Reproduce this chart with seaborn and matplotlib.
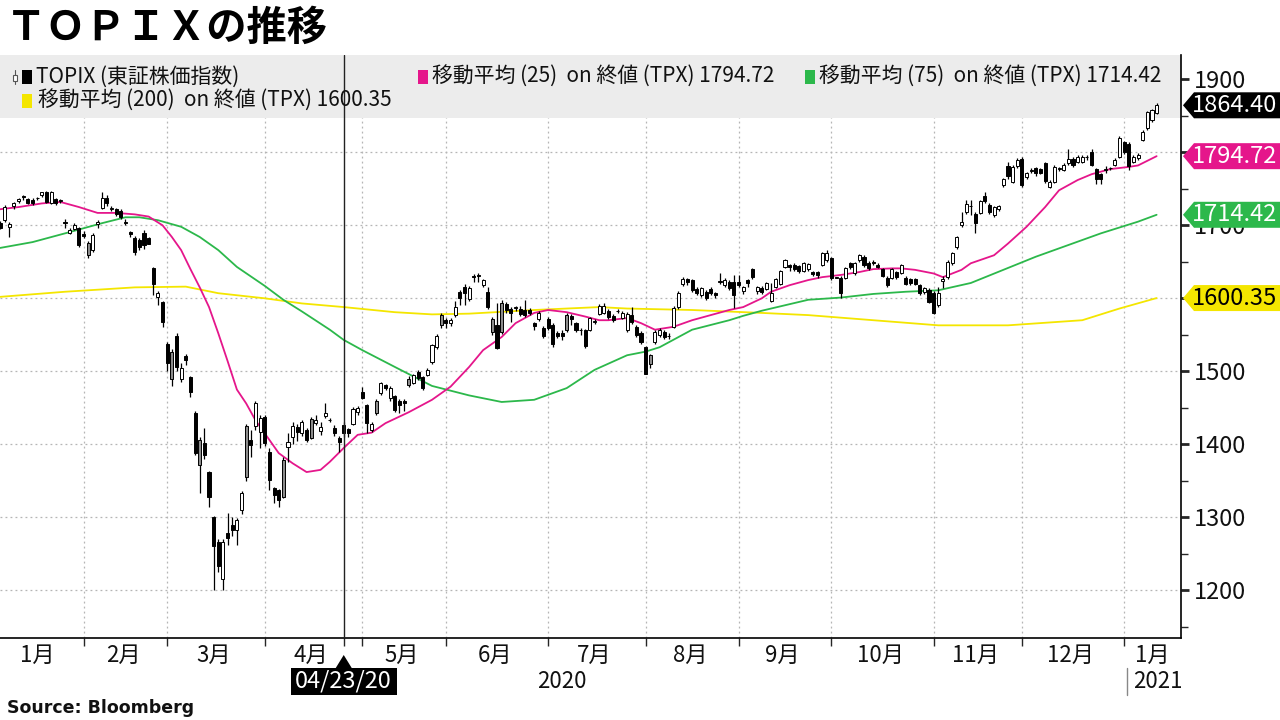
import matplotlib
matplotlib.use("Agg")
import matplotlib.pyplot as plt
import numpy as np
import pandas as pd
import seaborn as sns
from matplotlib.patches import Rectangle, Polygon
from matplotlib.lines import Line2D

# ---------------- data ----------------
opens = [
    1703,1707,1698,1726,1733,1740,1736,1735,1737,1741,1745,1731,1736,1733,1704,1690,1695,1696,1688,
    1659,1666,1702,1724,1737,1723,1722,1720,1705,1691,1683,1680,1690,1683,1641,1602,1595,1538,
    1490,1548,1490,1521,1492,1443,1372,1402,1362,1300,1266,1216,1279,1290,1282,1310,1355,1406,1425,1417,1437,
    1390,1340,1337,1328,1397,1410,1424,1416,1420,1409,1429,1418,1439,1434,1423,1409,1427,1421,1428,1444,1471,
    1454,1420,1443,1470,1481,1463,1466,1459,1460,1481,1484,1499,1492,1495,1513,1533,1563,1570,
    1566,1577,1609,1616,1599,1631,1632,1618,1609,1554,1563,1554,1592,1585,1587,1586,1584,1584,1566,1571,1559,1572,
    1563,1553,1553,1556,1576,1566,1557,1556,1557,1568,1579,1580,1582,1576,1582,1573,1556,1577,1561,1553,1533,
    1510,1540,1550,1554,1549,1561,1588,1620,1627,1625,1613,1604,1609,1613,1607,1623,1618,1622,1622,1622,
    1610,1625,1640,1610,1614,1613,1597,1616,1620,1643,1645,1646,1644,1638,1640,1636,1636,1646,1652,1655,
    1628,1628,1628,1648,1634,1652,1656,1648,1650,1646,1640,1628,1628,1636,1635,1628,1626,1626,1618,1609,1611,1607,
    1591,1624,1629,1648,1670,1700,1718,1727,1716,1717,1740,1728,1714,1722,1755,1781,1760,1781,1791,
    1766,1774,1778,1777,1785,1753,1760,1777,1776,1785,1791,1787,1787,1793,1800,1777,1770,1776,1778,1783,1794,1814,
    1811,1787,1792,1817,1833,1844,1854,
]
highs = [
    1706,1728,1705,1732,1738,1742,1738,1737,1739,1746,1747,1747,1738,1736,1708,1697,1703,1698,1692,
    1678,1689,1707,1745,1741,1727,1724,1722,1708,1692,1685,1682,1693,1684,1643,1610,1597,1540,
    1530,1553,1512,1524,1494,1445,1410,1422,1364,1302,1270,1270,1306,1300,1299,1336,1428,1420,1460,1440,1440,
    1395,1342,1339,1382,1415,1430,1428,1434,1422,1437,1440,1430,1457,1436,1426,1412,1430,1422,1451,1453,1478,
    1455,1430,1462,1486,1483,1480,1468,1462,1462,1493,1497,1502,1494,1504,1538,1551,1580,1573,
    1573,1596,1612,1619,1617,1633,1634,1627,1616,1575,1594,1598,1595,1588,1590,1589,1598,1587,1568,1583,1562,1574,
    1566,1555,1556,1580,1579,1568,1560,1558,1575,1572,1592,1593,1586,1578,1586,1582,1581,1588,1563,1555,1535,
    1524,1557,1559,1556,1552,1589,1610,1629,1628,1627,1615,1616,1611,1615,1609,1634,1628,1625,1632,1632,
    1617,1627,1642,1617,1617,1623,1621,1628,1639,1654,1647,1648,1646,1650,1649,1638,1637,1664,1666,1657,
    1628,1630,1643,1650,1650,1661,1660,1651,1652,1648,1642,1630,1642,1638,1647,1630,1628,1628,1620,1616,1614,1610,
    1615,1630,1652,1664,1686,1718,1734,1735,1718,1735,1745,1730,1727,1728,1765,1787,1782,1792,1793,
    1773,1778,1780,1779,1787,1762,1782,1780,1786,1804,1793,1796,1796,1796,1805,1779,1772,1781,1780,1792,1822,1816,
    1814,1796,1799,1830,1857,1860,1867,
]
lows = [
    1695,1705,1684,1722,1731,1735,1729,1728,1735,1739,1730,1729,1728,1730,1697,1688,1693,1670,1682,
    1655,1664,1697,1722,1727,1720,1713,1709,1700,1684,1660,1666,1668,1674,1605,1591,1561,1500,
    1480,1500,1485,1508,1465,1385,1333,1380,1314,1201,1225,1200,1262,1275,1262,1305,1350,1383,1420,1395,1398,
    1337,1320,1314,1326,1376,1400,1405,1412,1403,1407,1426,1413,1436,1430,1412,1390,1410,1410,1426,1440,1462,
    1415,1417,1440,1468,1474,1460,1444,1443,1445,1478,1482,1488,1474,1493,1510,1530,1560,1560,
    1562,1575,1591,1591,1597,1622,1622,1615,1585,1550,1530,1551,1580,1567,1583,1576,1574,1577,1557,1569,1546,1557,
    1533,1545,1543,1554,1563,1554,1550,1532,1555,1565,1577,1578,1572,1567,1580,1571,1554,1565,1547,1538,1496,
    1504,1538,1547,1544,1544,1559,1586,1617,1618,1608,1604,1602,1598,1605,1601,1620,1616,1611,1587,1615,
    1606,1615,1626,1606,1606,1611,1595,1614,1618,1641,1638,1637,1634,1636,1638,1630,1628,1644,1650,1625,
    1628,1600,1626,1640,1632,1650,1643,1639,1645,1641,1629,1615,1626,1627,1633,1618,1618,1618,1605,1606,1593,1578,
    1588,1614,1627,1646,1668,1698,1716,1714,1690,1715,1731,1715,1712,1720,1753,1764,1758,1779,1753,
    1763,1772,1768,1770,1758,1751,1758,1774,1774,1783,1780,1785,1785,1790,1781,1756,1757,1771,1776,1781,1792,1798,
    1776,1785,1790,1815,1831,1842,1852,
]
closes = [
    1697,1725,1702,1731,1736,1739,1731,1730,1738,1745,1732,1745,1731,1734,1703,1694,1700,1673,1686,
    1676,1687,1704,1738,1730,1724,1716,1712,1703,1688,1664,1670,1673,1675,1620,1607,1568,1511,
    1526,1506,1504,1516,1471,1388,1406,1385,1328,1261,1234,1266,1272,1283,1296,1333,1425,1399,1457,1436,1402,
    1351,1330,1324,1378,1403,1425,1417,1431,1406,1435,1434,1424,1443,1433,1416,1403,1416,1416,1449,1450,1464,
    1429,1428,1459,1484,1477,1477,1447,1454,1456,1490,1495,1491,1477,1502,1536,1549,1577,1566,
    1570,1588,1600,1607,1614,1629,1630,1625,1588,1572,1532,1594,1584,1580,1588,1579,1577,1580,1562,1580,1549,1560,
    1538,1549,1548,1577,1572,1557,1556,1535,1573,1569,1590,1590,1575,1570,1583,1580,1578,1567,1550,1540,1497,
    1522,1554,1556,1547,1548,1587,1607,1627,1623,1611,1607,1614,1600,1607,1604,1624,1625,1614,1604,1618,
    1615,1621,1629,1615,1609,1621,1607,1626,1637,1652,1643,1640,1637,1648,1647,1633,1632,1662,1662,1628,
    1628,1607,1641,1643,1648,1659,1646,1641,1649,1643,1631,1618,1640,1629,1645,1620,1621,1620,1607,1614,1595,1580,
    1607,1627,1650,1662,1684,1705,1729,1726,1703,1733,1733,1718,1725,1726,1763,1767,1780,1790,1755,
    1771,1776,1771,1772,1761,1760,1780,1778,1783,1791,1782,1794,1794,1794,1783,1763,1763,1777,1779,1790,1820,1800,
    1781,1794,1797,1828,1855,1858,1864.40,
]

# moving averages at sample candles
ma25_idx = [0,4,9,13,17,21,25,29,32,35,37,39,41,43,45,47,49,51,53,55,57,60,63,66,69,71,74,77,80,83,88,
            93,97,101,104,108,111,115,118,122,126,129,131,135,138,141,145,149,153,157,160,164,166,170,174,
            177,181,185,188,192,194,197,201,203,207,209,214,217,221,225,228,232,235,239,243,245,249]
ma25_val = [1722,1725,1730,1732,1725,1717,1717,1715,1712,1700,1684,1666,1640,1615,1588,1552,1514,1475,1456,1433,1415,
            1388,1374,1362,1365,1376,1395,1413,1416,1429,1444,1461,1479,1506,1529,1547,1566,1580,1584,1581,1575,
            1570,1570,1573,1566,1557,1561,1570,1577,1584,1588,1600,1609,1618,1625,1629,1632,1636,1640,1641,1641,
            1639,1634,1629,1639,1648,1659,1675,1698,1725,1748,1762,1770,1777,1780,1782,1794.72]
ma75_idx = [0,7,14,22,27,30,34,39,43,47,51,54,57,61,65,71,74,78,85,93,101,108,115,122,128,135,139,142,149,
            157,160,164,174,181,188,195,202,209,216,223,230,237,245,249]
ma75_val = [1669,1677,1689,1703,1711,1711,1707,1698,1684,1666,1643,1630,1617,1598,1582,1557,1543,1529,1506,1480,1467,
            1458,1461,1477,1502,1522,1527,1533,1557,1570,1576,1583,1598,1601,1606,1609,1611,1621,1639,1657,1673,
            1689,1705,1714.42]
ma200_idx = [0,14,29,40,47,57,65,74,85,93,101,115,129,135,149,164,174,188,202,217,233,241,249]
ma200_val = [1602,1609,1615,1616,1607,1600,1593,1588,1581,1578,1579,1584,1588,1586,1584,1580,1577,1570,1563,1563,
             1570,1586,1600.35]

month_labels = ["1月","2月","3月","4月","5月","6月","7月","8月","9月","10月","11月","12月","1月"]
month_starts = [0,19,37,58,79,97,119,140,160,180,202,221,243]
y_ticks = [1200,1300,1400,1500,1600,1700,1800,1900]
last_values = {"TOPIX": 1864.40, "MA25": 1794.72, "MA75": 1714.42, "MA200": 1600.35}
crosshair_idx = 74
crosshair_label = "04/23/20"
gray_days = [19,37,43,53,61,67,81,88,95,106,108,122,140]

# ---------------- styling ----------------
PINK = "#e5168b"
GREEN = "#2cb84b"
YELLOW = "#f4e600"
W, H = 1280, 720

sns.set_theme(style="white")
plt.rcParams["font.family"] = ["Liberation Sans Narrow", "Noto Sans CJK JP", "DejaVu Sans"]
plt.rcParams["axes.unicode_minus"] = False
FAM = ["Liberation Sans Narrow", "Noto Sans CJK JP", "DejaVu Sans"]
CJK = ["Noto Sans CJK JP", "DejaVu Sans"]

fig = plt.figure(figsize=(12.8, 7.2), dpi=100)
fig.patch.set_facecolor("white")
ax_left, ax_bottom, ax_right, ax_top = 0, 638, 1181, 55
ax = fig.add_axes([ax_left / W, 1 - ax_bottom / H, (ax_right - ax_left) / W, (ax_bottom - ax_top) / H])
ax.set_facecolor("white")

ax.set_xlim(0, 254.25)
ax.set_ylim(1134.7, 1933.3)

# grid
for yv in y_ticks:
    ax.axhline(yv, color="#b5b5b5", lw=0.9, ls=(0, (1.5, 2.5)), zorder=0.5)
grid_x = [s - 1 for s in month_starts[1:]]
for gx in grid_x:
    ax.axvline(gx, color="#b5b5b5", lw=0.9, ls=(0, (1.5, 2.5)), zorder=0.5)

# legend band
band_frac = (ax_bottom - 118) / (ax_bottom - ax_top)
ax.add_patch(Rectangle((0, band_frac), 1, 1 - band_frac, transform=ax.transAxes,
                       facecolor="#ececec", edgecolor="none", zorder=1))

# moving averages with seaborn
sns.lineplot(x=ma200_idx, y=ma200_val, ax=ax, color=YELLOW, lw=1.3, zorder=2)
sns.lineplot(x=ma75_idx, y=ma75_val, ax=ax, color=GREEN, lw=1.3, zorder=2)
sns.lineplot(x=ma25_idx, y=ma25_val, ax=ax, color=PINK, lw=1.3, zorder=2)

# candles
o = np.array(opens, float); c = np.array(closes, float)
hi = np.array(highs, float); lo = np.array(lows, float)
xs = np.arange(len(o))
ax.vlines(xs, lo, hi, color="black", lw=0.9, zorder=3)
fcs = []
for i in range(len(o)):
    if i in gray_days:
        fcs.append("#8c8c8c")
    elif c[i] >= o[i]:
        fcs.append("white")
    else:
        fcs.append("black")
bottoms = np.minimum(o, c)
heights = np.maximum(np.abs(c - o), 0.8)
ax.bar(xs, heights, bottom=bottoms, width=0.66, color=fcs, edgecolor="black", linewidth=0.7, zorder=4)

# crosshair
ax.axvline(crosshair_idx, color="#222222", lw=1.0, zorder=5)

# axes / spines
for s in ["top", "left"]:
    ax.spines[s].set_visible(False)
ax.spines["right"].set_color("black"); ax.spines["right"].set_linewidth(1.2)
ax.spines["bottom"].set_color("black"); ax.spines["bottom"].set_linewidth(1.2)
ax.yaxis.tick_right()
ax.set_yticks(y_ticks)
# labels at 1600 and 1800 sit fully under the value tags in the reference
shown = [str(v) if v not in (1600, 1800) else "" for v in y_ticks]
ax.set_yticklabels(shown, fontsize=17, family=FAM, color="#111111")
ax.set_yticks([v + 50 for v in y_ticks[:-1]] + [1150], minor=True)
ax.tick_params(axis="y", which="major", direction="out", length=6, width=2.0, pad=3, right=True, left=False)
ax.tick_params(axis="y", which="minor", direction="out", length=5, width=1.0, right=True, left=False)
ax.set_xticks(grid_x + [crosshair_idx])
ax.set_xticklabels([])
ax.tick_params(axis="x", which="major", direction="out", length=6, width=1.0, bottom=True)
ax.set_xlabel(""); ax.set_ylabel("")

# month labels
trans = ax.get_xaxis_transform()
for k, lab in enumerate(month_labels):
    if k < len(month_starts) - 1:
        cx = (month_starts[k] + month_starts[k + 1] - 1) / 2 - 1
    else:
        cx = (grid_x[-1] + 254.25) / 2
    ax.text(cx, -0.03, lab, transform=trans, ha="center", va="center", fontsize=16,
            family=FAM, color="#111111")

def fx(px):
    return px / W

def fy(py):
    return 1 - py / H

# year labels
fig.text(fx(562), fy(682), "2020", ha="center", va="center", fontsize=16, family=FAM, color="#111111")
fig.text(fx(1133), fy(682), "2021", ha="left", va="center", fontsize=16, family=FAM, color="#111111")
fig.add_artist(Line2D([fx(1127), fx(1127)], [fy(668), fy(695)], color="#888888", lw=1.0))

# crosshair date label
cx_px = ax.transData.transform((crosshair_idx, 0))[0]
fig.add_artist(Polygon([(fx(cx_px - 8), fy(668)), (fx(cx_px + 8), fy(668)), (fx(cx_px), fy(655))],
                       closed=True, transform=fig.transFigure, facecolor="black", edgecolor="none"))
fig.add_artist(Rectangle((fx(cx_px - 53), fy(695)), 106 / W, 27 / H, transform=fig.transFigure,
                         facecolor="black", edgecolor="none"))
fig.text(fx(cx_px), fy(681.5), crosshair_label, ha="center", va="center", fontsize=17,
         family=FAM, color="white")

# right-side value tags
def tag(val, fc, tc):
    yd = ax.transData.transform((0, val))[1]
    pts = [(1183, yd), (1194, yd + 13), (1280, yd + 13), (1280, yd - 13), (1194, yd - 13)]
    fig.add_artist(Polygon([(x / W, y / H) for x, y in pts], closed=True, transform=fig.transFigure,
                           facecolor=fc, edgecolor="none", zorder=10))
    fig.text(1277 / W, yd / H, f"{val:.2f}", ha="right", va="center", fontsize=17, family=FAM,
             color=tc, zorder=11)

tag(last_values["TOPIX"], "black", "white")
tag(last_values["MA25"], PINK, "white")
tag(last_values["MA75"], GREEN, "white")
tag(last_values["MA200"], YELLOW, "black")

# legend (text inside the gray band)
def square(xp, yp, color):
    fig.add_artist(Rectangle((fx(xp), fy(yp + 7)), 10 / W, 14 / H, transform=fig.transFigure,
                             facecolor=color, edgecolor="none", zorder=12))

# tiny candle icon
fig.add_artist(Line2D([fx(15), fx(15)], [fy(70), fy(84)], color="#555555", lw=0.8, zorder=12))
fig.add_artist(Rectangle((fx(13), fy(81)), 4 / W, 6 / H, transform=fig.transFigure,
                         facecolor="white", edgecolor="#555555", lw=0.8, zorder=12))
LEG = 15
square(22, 77, "black")
fig.text(fx(36), fy(77), "TOPIX (東証株価指数)", ha="left", va="center", fontsize=LEG, family=FAM, color="#111111")
square(418, 77, PINK)
fig.text(fx(432), fy(77), "移動平均 (25)  on 終値 (TPX) 1794.72", ha="left", va="center", fontsize=LEG,
         family=FAM, color="#111111")
square(805, 77, GREEN)
fig.text(fx(819), fy(77), "移動平均 (75)  on 終値 (TPX) 1714.42", ha="left", va="center", fontsize=LEG,
         family=FAM, color="#111111")
square(22, 101, YELLOW)
fig.text(fx(38), fy(101), "移動平均 (200)  on 終値 (TPX) 1600.35", ha="left", va="center", fontsize=LEG,
         family=FAM, color="#111111")

# title and source
fig.text(fx(6), fy(28), "ＴＯＰＩＸの推移", ha="left", va="center", fontsize=29, fontweight="bold",
         family=CJK, color="black")
fig.text(fx(7), fy(708), "Source: Bloomberg", ha="left", va="center", fontsize=12.5, fontweight="bold",
         family=["DejaVu Sans"], color="#111111")

fig.savefig("out.png", dpi=100, facecolor="white")
